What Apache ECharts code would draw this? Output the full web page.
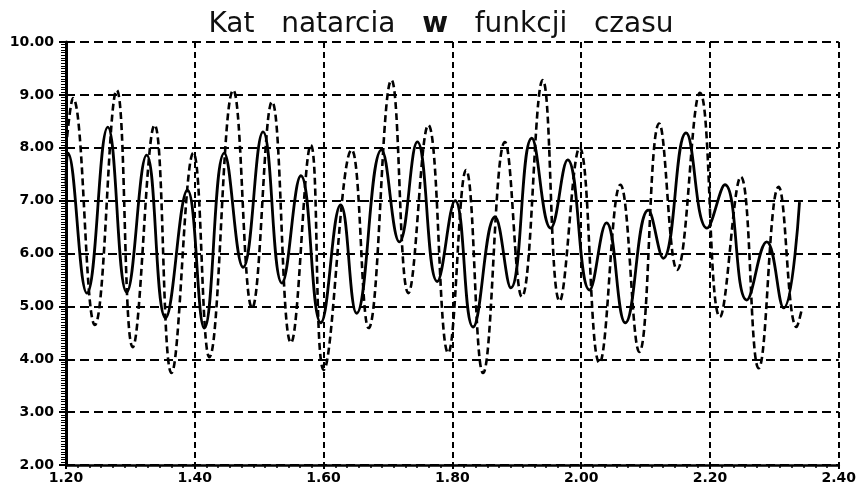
<!DOCTYPE html>
<html>
<head>
<meta charset="utf-8">
<script src="https://cdn.jsdelivr.net/npm/echarts@6/dist/echarts.min.js"></script>
<style>
  html, body { margin: 0; padding: 0; background: #fff; }
  #chart { width: 859px; height: 495px; }
</style>
</head>
<body>
<div id="chart"></div>
<script>
// Angle of attack vs time: two traces (solid and dashed), sampled at their turning points.
const solidTime = [1.200, 1.203, 1.2325, 1.2649, 1.2943, 1.3252, 1.3546, 1.3886, 1.4148, 1.4457,
  1.4751, 1.5060, 1.5354, 1.5648, 1.5957, 1.6266, 1.6513, 1.6900, 1.7178, 1.7456,
  1.7765, 1.8043, 1.8321, 1.8662, 1.8909, 1.9233, 1.9527, 1.9790, 2.0130, 2.0393,
  2.0686, 2.1042, 2.1274, 2.1629, 2.1954, 2.2232, 2.2572, 2.2881, 2.3144, 2.3391];
const solidAngle = [7.3, 7.9, 5.25, 8.39, 5.27, 7.86, 4.78, 7.2, 4.59, 7.9,
  5.74, 8.3, 5.44, 7.47, 4.69, 6.92, 4.87, 7.96, 6.22, 8.11,
  5.47, 7.0, 4.61, 6.69, 5.35, 8.18, 6.48, 7.77, 5.31, 6.58,
  4.69, 6.82, 5.91, 8.28, 6.48, 7.3, 5.12, 6.22, 4.97, 6.97];

const dashedTime = [1.200, 1.2108, 1.2448, 1.2788, 1.3036, 1.3376, 1.3638, 1.3978, 1.4226, 1.4597,
  1.4890, 1.5199, 1.5493, 1.5802, 1.6003, 1.6436, 1.6699, 1.7054, 1.7317, 1.7626,
  1.7935, 1.8213, 1.8476, 1.8816, 1.9079, 1.9403, 1.9666, 1.9975, 2.0284, 2.0609,
  2.0903, 2.1212, 2.1490, 2.1845, 2.2155, 2.2479, 2.2757, 2.3066, 2.3345, 2.3437];
const dashedAngle = [8.0, 8.94, 4.65, 9.09, 4.23, 8.43, 3.74, 7.9, 4.04, 9.09,
  4.97, 8.87, 4.31, 8.05, 3.8, 7.96, 4.59, 9.28, 5.25, 8.43,
  4.12, 7.58, 3.74, 8.11, 5.18, 9.28, 5.1, 8.0, 3.93, 7.3,
  4.14, 8.46, 5.69, 9.04, 4.8, 7.45, 3.83, 7.26, 4.61, 5.0];

const timeMin = 1.2, timeMax = 2.4, timeStep = 0.2;
const angleMin = 2, angleMax = 10, angleStep = 1;
const titleParts = ['Kat   natarcia   ', 'w', '   funkcji   czasu'];

const pairs = (xs, ys) => xs.map((x, i) => [x, ys[i]]);

const chart = echarts.init(document.getElementById('chart'), null, { renderer: 'canvas' });
chart.setOption({
  animation: false,
  backgroundColor: '#ffffff',
  title: {
    text: '{n|' + titleParts[0] + '}{b|' + titleParts[1] + '}{n|' + titleParts[2] + '}',
    left: 436,
    textAlign: 'center',
    top: 6,
    textStyle: {
      rich: {
        n: { fontFamily: 'DejaVu Sans', fontSize: 28, fontWeight: 'normal', color: '#111' },
        b: { fontFamily: 'DejaVu Sans', fontSize: 28, fontWeight: 'bold', color: '#111' }
      }
    }
  },
  grid: { left: 66, top: 42, right: 19, bottom: 30, containLabel: false },
  xAxis: {
    type: 'value',
    min: timeMin, max: timeMax, interval: timeStep,
    axisLine: { show: true, lineStyle: { color: '#000', width: 2.5 } },
    axisTick: { show: true, length: 4, lineStyle: { color: '#000', width: 2 } },
    minorTick: { show: true, splitNumber: 11, length: 3, lineStyle: { color: '#000', width: 1.5 } },
    axisLabel: {
      margin: 6,
      fontFamily: 'DejaVu Sans', fontWeight: 'bold', fontSize: 14, color: '#000',
      formatter: v => v.toFixed(2)
    },
    splitLine: { show: true, lineStyle: { color: '#000', width: 2, type: [6, 4] } }
  },
  yAxis: {
    type: 'value',
    min: angleMin, max: angleMax, interval: angleStep,
    axisLine: { show: true, lineStyle: { color: '#000', width: 3 } },
    axisTick: { show: true, length: 7, lineStyle: { color: '#000', width: 2 } },
    minorTick: { show: true, splitNumber: 20, length: 5, lineStyle: { color: '#000', width: 1 } },
    axisLabel: {
      margin: 12,
      fontFamily: 'DejaVu Sans', fontWeight: 'bold', fontSize: 14, color: '#000',
      formatter: v => v.toFixed(2)
    },
    splitLine: { show: true, lineStyle: { color: '#000', width: 2, type: [9, 5] } }
  },
  series: [
    {
      name: 'solid',
      type: 'line',
      data: pairs(solidTime, solidAngle),
      smooth: 0.45,
      symbol: 'none',
      lineStyle: { color: '#000', width: 2.8, type: 'solid' },
      z: 3
    },
    {
      name: 'dashed',
      type: 'line',
      data: pairs(dashedTime, dashedAngle),
      smooth: 0.45,
      symbol: 'none',
      lineStyle: { color: '#000', width: 2.6, type: [7, 4] },
      z: 2
    }
  ]
});
</script>
</body>
</html>
